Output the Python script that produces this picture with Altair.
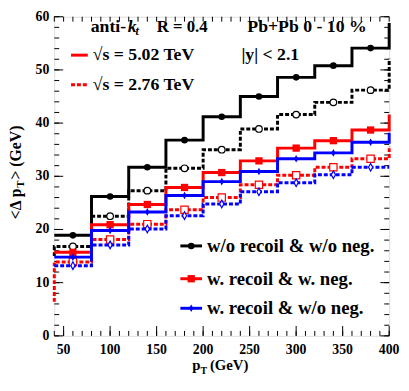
import altair as alt
import pandas as pd

# ---------------- data ----------------
bin_edges = [40, 80, 120, 160, 200, 240, 280, 320, 360, 400]
bin_centers = [60, 100, 140, 180, 220, 260, 300, 340, 380]

black_502 = [18.9, 26.2, 31.7, 36.8, 41.2, 45.0, 48.6, 50.8, 54.1]
black_276 = [16.8, 22.5, 27.3, 31.5, 35.0, 38.9, 41.6, 43.9, 46.2]
red_502 = [15.7, 20.9, 24.7, 27.9, 30.7, 32.9, 35.3, 36.7, 38.7]
red_276 = [13.9, 18.1, 21.0, 23.7, 26.0, 28.4, 30.2, 31.7, 33.3]
blue_502 = [14.8, 19.8, 23.3, 26.4, 29.0, 30.9, 33.3, 34.4, 36.4]
blue_276 = [13.2, 17.1, 20.1, 22.6, 24.8, 27.1, 28.8, 30.3, 31.7]

# values at the histogram edges (under/overflow drawn by the step outline)
underflow = {"black_502": 18.9, "black_276": 15.0, "red_502": 15.7,
             "red_276": 6.4, "blue_502": 14.8, "blue_276": 13.2}
overflow = {"black_502": 58.8, "black_276": 52.1, "red_502": 41.6,
            "red_276": 35.7, "blue_502": 38.2, "blue_276": 31.7}

x_major = [50, 100, 150, 200, 250, 300, 350, 400]
x_tick_labels = ["50", "100", "150", "200", "250", "300", "350", "400"]
x_minor = list(range(40, 401, 10))
y_major = [0, 10, 20, 30, 40, 50, 60]
y_tick_labels = ["0", "10", "20", "30", "40", "50", "60"]
y_minor = list(range(0, 61, 2))

legend_labels = ["w/o recoil & w/o neg.", "w. recoil & w. neg.", "w. recoil & w/o neg."]

# ---------------- layout ----------------
W, H = 340, 324
FONT = "Liberation Serif"
xs = alt.Scale(domain=[40, 400], nice=False, zero=False)
ys = alt.Scale(domain=[0, 60], nice=False, zero=False)

def px(v):  # page x -> plot coords
    return v - 55

def py(v):  # page y -> plot coords
    return v - 14

THIN_DIAMOND = "M0,-1L0.55,0L0,1L-0.55,0Z"

series = [
    ("black_502", black_502, "black", None, "circle", True),
    ("black_276", black_276, "black", [4, 2], "circle", False),
    ("red_502", red_502, "#ff0000", None, "square", True),
    ("red_276", red_276, "#ff0000", [4, 2], "square", False),
    ("blue_502", blue_502, "#0000ff", None, THIN_DIAMOND, True),
    ("blue_276", blue_276, "#0000ff", [4, 2], THIN_DIAMOND, False),
]

layers = []

# base (scales only; axes drawn by hand in ROOT style)
base_df = pd.DataFrame({"x": [40, 400], "y": [0, 60]})
base = alt.Chart(base_df).mark_point(opacity=0).encode(
    x=alt.X("x:Q", scale=xs, axis=None),
    y=alt.Y("y:Q", scale=ys, axis=None),
)
layers.append(base)

# inward ticks
ymaj = pd.DataFrame({"v": y_major, "lbl": y_tick_labels})
ymin = pd.DataFrame({"v": y_minor})
xmaj = pd.DataFrame({"v": x_major, "lbl": x_tick_labels})
xmin = pd.DataFrame({"v": x_minor})
tick_style = dict(color="black", strokeWidth=1)
layers += [
    alt.Chart(ymaj).mark_rule(**tick_style).encode(y=alt.Y("v:Q", scale=ys), x=alt.value(0), x2=alt.value(9)),
    alt.Chart(ymin).mark_rule(**tick_style).encode(y=alt.Y("v:Q", scale=ys), x=alt.value(0), x2=alt.value(5)),
    alt.Chart(ymaj).mark_rule(**tick_style).encode(y=alt.Y("v:Q", scale=ys), x=alt.value(W - 9), x2=alt.value(W)),
    alt.Chart(ymin).mark_rule(**tick_style).encode(y=alt.Y("v:Q", scale=ys), x=alt.value(W - 5), x2=alt.value(W)),
    alt.Chart(xmaj).mark_rule(**tick_style).encode(x=alt.X("v:Q", scale=xs), y=alt.value(H - 10), y2=alt.value(H)),
    alt.Chart(xmin).mark_rule(**tick_style).encode(x=alt.X("v:Q", scale=xs), y=alt.value(H - 5), y2=alt.value(H)),
    alt.Chart(xmin).mark_rule(**tick_style).encode(x=alt.X("v:Q", scale=xs), y=alt.value(0), y2=alt.value(5)),
]
# tick labels
lab_style = dict(font=FONT, fontWeight="bold", fontSize=14, color="black", baseline="middle")
layers += [
    alt.Chart(ymaj).mark_text(align="right", **lab_style).encode(
        y=alt.Y("v:Q", scale=ys), x=alt.value(-5), text="lbl:N"),
    alt.Chart(xmaj).mark_text(align="center", **lab_style).encode(
        x=alt.X("v:Q", scale=xs), y=alt.value(H + 14), text="lbl:N"),
]

# histograms
for name, vals, color, dash, shape, filled in series:
    pts_x = [bin_edges[0]]
    pts_y = [underflow[name]]
    for i, v in enumerate(vals):
        pts_x += [bin_edges[i], bin_edges[i + 1]]
        pts_y += [v, v]
    pts_x.append(bin_edges[-1])
    pts_y.append(overflow[name])
    df = pd.DataFrame({"x": pts_x, "y": pts_y, "o": list(range(len(pts_x)))})
    line_kw = dict(color=color, strokeWidth=3, strokeCap="butt", strokeJoin="miter")
    if dash:
        line_kw["strokeDash"] = dash
    layers.append(alt.Chart(df).mark_line(**line_kw).encode(
        x=alt.X("x:Q", scale=xs), y=alt.Y("y:Q", scale=ys), order="o:Q"))
    mdf = pd.DataFrame({"x": bin_centers, "y": vals})
    size = 45 if shape == "circle" else (55 if shape == "square" else 60)
    if filled:
        pk = dict(shape=shape, filled=True, fill=color, color=color, size=size, opacity=1, strokeWidth=1)
    else:
        pk = dict(shape=shape, filled=False, color=color, fill="white", fillOpacity=1, size=size, opacity=1, strokeWidth=1.2)
    layers.append(alt.Chart(mdf).mark_point(**pk).encode(
        x=alt.X("x:Q", scale=xs), y=alt.Y("y:Q", scale=ys)))

# annotations
def text(s, x, y, size=18, style="normal", weight="bold", align="left", angle=0, baseline="middle"):
    kw = dict(align=align, baseline=baseline, font=FONT, fontSize=size,
              fontWeight=weight, fontStyle=style, color="black")
    if angle:
        kw["angle"] = angle
    return alt.Chart(pd.DataFrame({"lbl": [s]})).mark_text(**kw).encode(
        x=alt.value(x), y=alt.value(y), text="lbl:N")

# top-left block
layers += [
    text("anti-", px(92), py(24)),
    text("k", px(129.5), py(24), style="italic"),
    text("t", px(137.5), py(29), size=12, style="italic"),
    text("R = 0.4", px(159), py(24), size=17),
    text("Pb+Pb 0 - 10 %", px(251), py(24)),
    text("|y| < 2.1", px(245), py(53)),
    text("√s = 5.02 TeV", px(94), py(53)),
    text("√s = 2.76 TeV", px(94), py(83)),
]
# top-left legend line samples
for yy, dash in [(53, None), (83, [4, 2])]:
    kw = dict(color="#ff0000", strokeWidth=3)
    if dash:
        kw["strokeDash"] = dash
    layers.append(alt.Chart(pd.DataFrame({"a": [0]})).mark_rule(**kw).encode(
        x=alt.value(px(72)), x2=alt.value(px(89)), y=alt.value(py(yy))))

# bottom-right legend
leg_rows = [(246.7, "black", "circle", 45), (280, "#ff0000", "square", 55), (310, "#0000ff", THIN_DIAMOND, 60)]
for (yy, color, shape, size), lab in zip(leg_rows, legend_labels):
    layers.append(alt.Chart(pd.DataFrame({"a": [0]})).mark_rule(color=color, strokeWidth=3).encode(
        x=alt.value(px(183)), x2=alt.value(px(205)), y=alt.value(py(yy))))
    layers.append(alt.Chart(pd.DataFrame({"a": [0]})).mark_point(
        shape=shape, filled=True, color=color, size=size, opacity=1).encode(
        x=alt.value(px(194)), y=alt.value(py(yy))))
    layers.append(text(lab, px(210), py(yy), size=19))

# axis titles
layers += [
    text("p", px(195), py(368), size=15),
    text("T", px(203.5), py(374), size=10),
    text("(GeV)", px(213), py(368), size=15),
]
# y title (rotated, reads bottom to top)
yc = py(172)
ttl_parts = [("<Δ p", 16, 0), ("T", 11, 5), ("> (GeV)", 16, 0)]
widths = [0.570 * 16 + 0.612 * 16 + 0.25 * 16 + 0.556 * 16, 0.667 * 11 + 1, 0.570 * 16 + 0.25 * 16 + (0.333 + 0.778 + 0.444 + 0.722 + 0.333) * 16]
total = sum(widths)
start = yc + total / 2
for (s, sz, off), w in zip(ttl_parts, widths):
    layers.append(text(s, px(16) + off, start, size=sz, angle=270))
    start -= w

chart = alt.layer(*layers).properties(
    width=W, height=H,
    autosize=alt.AutoSizeParams(type="none"),
    padding={"left": 47, "top": 6, "right": 12, "bottom": 45},
).configure_view(stroke="black", strokeWidth=1).configure(background="white")

chart.save("out.html", embed_options={"renderer": "svg", "actions": False})
